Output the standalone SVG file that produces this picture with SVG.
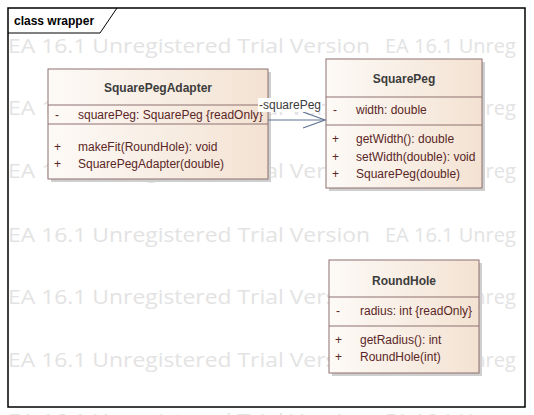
<svg xmlns="http://www.w3.org/2000/svg" width="534" height="415" viewBox="0 0 534 415">
<defs>
<linearGradient id="cls" x1="0" y1="0" x2="1" y2="0">
<stop offset="0" stop-color="#fdfaf7"/>
<stop offset="1" stop-color="#f3e2d2"/>
</linearGradient>
<clipPath id="wmclip"><rect x="0" y="0" width="527" height="415"/></clipPath>
<style>
.wm{font-family:"Open Sans","DejaVu Sans",sans-serif;font-size:20px;fill:#e3e3e3}
.box{fill:url(#cls);stroke:#8e7070;stroke-width:1}
.sh{fill:#cfcfcf}
.sep{stroke:#8e7070;stroke-width:1}
.nm{font-family:"Liberation Sans",Arial,sans-serif;font-size:12px;font-weight:bold;fill:#3c3c3c;text-anchor:middle}
.mb{font-family:"Liberation Sans",Arial,sans-serif;font-size:12px;fill:#5a2626}
.ttl{font-family:"Liberation Sans",Arial,sans-serif;font-size:12px;font-weight:bold;fill:#000}
.lbl{font-family:"Liberation Sans",Arial,sans-serif;font-size:12px;fill:#3c3c3c}
.conn{stroke:#5f7391;stroke-width:1.2;fill:none}
</style>
</defs>
<rect width="534" height="415" fill="#fff"/>
<g id="watermark" clip-path="url(#wmclip)">
<text class="wm" x="8" y="53" textLength="362" lengthAdjust="spacingAndGlyphs">EA 16.1 Unregistered Trial Version</text>
<text class="wm" x="385" y="53">EA 16.1 Unreg</text>
<text class="wm" x="8" y="115" textLength="362" lengthAdjust="spacingAndGlyphs">EA 16.1 Unregistered Trial Version</text>
<text class="wm" x="385" y="115">EA 16.1 Unreg</text>
<text class="wm" x="8" y="178" textLength="362" lengthAdjust="spacingAndGlyphs">EA 16.1 Unregistered Trial Version</text>
<text class="wm" x="385" y="178">EA 16.1 Unreg</text>
<text class="wm" x="8" y="242" textLength="362" lengthAdjust="spacingAndGlyphs">EA 16.1 Unregistered Trial Version</text>
<text class="wm" x="385" y="242">EA 16.1 Unreg</text>
<text class="wm" x="8" y="304" textLength="362" lengthAdjust="spacingAndGlyphs">EA 16.1 Unregistered Trial Version</text>
<text class="wm" x="385" y="304">EA 16.1 Unreg</text>
<text class="wm" x="8" y="367" textLength="362" lengthAdjust="spacingAndGlyphs">EA 16.1 Unregistered Trial Version</text>
<text class="wm" x="385" y="367">EA 16.1 Unreg</text>
<text class="wm" x="8" y="428" textLength="362" lengthAdjust="spacingAndGlyphs">EA 16.1 Unregistered Trial Version</text>
<text class="wm" x="385" y="428">EA 16.1 Unreg</text>
</g>
<g id="frame">
<rect x="8" y="8" width="517" height="399" fill="none" stroke="#000" stroke-width="1.5"/>
<path d="M8,33 H100 L117,8" fill="none" stroke="#000" stroke-width="1"/>
<text class="ttl" x="14" y="25">class wrapper</text>
</g>
<g id="SquarePegAdapter">
<rect class="sh" x="51" y="72" width="220" height="110"/>
<rect class="box" x="48" y="69" width="220" height="110"/>
<line class="sep" x1="48" y1="105" x2="268" y2="105"/>
<line class="sep" x1="48" y1="124" x2="268" y2="124"/>
<text class="nm" x="158" y="92">SquarePegAdapter</text>
<text class="mb" x="55" y="119">-</text>
<text class="mb" x="78" y="119">squarePeg: SquarePeg {readOnly}</text>
<text class="mb" x="54" y="151">+</text>
<text class="mb" x="78" y="151">makeFit(RoundHole): void</text>
<text class="mb" x="54" y="168">+</text>
<text class="mb" x="78" y="168">SquarePegAdapter(double)</text>
</g>
<g id="SquarePeg">
<rect class="sh" x="329" y="62" width="156" height="129"/>
<rect class="box" x="326" y="59" width="156" height="129"/>
<line class="sep" x1="326" y1="97" x2="482" y2="97"/>
<line class="sep" x1="326" y1="125" x2="482" y2="125"/>
<text class="nm" x="404" y="83">SquarePeg</text>
<text class="mb" x="333" y="114">-</text>
<text class="mb" x="356" y="114">width: double</text>
<text class="mb" x="332" y="143">+</text>
<text class="mb" x="356" y="143">getWidth(): double</text>
<text class="mb" x="332" y="161">+</text>
<text class="mb" x="356" y="161">setWidth(double): void</text>
<text class="mb" x="332" y="178">+</text>
<text class="mb" x="356" y="178">SquarePeg(double)</text>
</g>
<g id="RoundHole">
<rect class="sh" x="332" y="263" width="150" height="113"/>
<rect class="box" x="329" y="260" width="150" height="113"/>
<line class="sep" x1="329" y1="297" x2="479" y2="297"/>
<line class="sep" x1="329" y1="326" x2="479" y2="326"/>
<text class="nm" x="404" y="285">RoundHole</text>
<text class="mb" x="336" y="315">-</text>
<text class="mb" x="360" y="315">radius: int {readOnly}</text>
<text class="mb" x="335" y="344">+</text>
<text class="mb" x="360" y="344">getRadius(): int</text>
<text class="mb" x="335" y="361">+</text>
<text class="mb" x="360" y="361">RoundHole(int)</text>
</g>
<g id="connectors">
<line class="conn" x1="268" y1="120" x2="325" y2="120"/>
<polyline class="conn" points="303,112 325,120 303,128"/>
<rect x="258" y="98" width="64" height="14" fill="#fff"/>
<text class="lbl" x="259" y="109">-squarePeg</text>
</g>
</svg>
